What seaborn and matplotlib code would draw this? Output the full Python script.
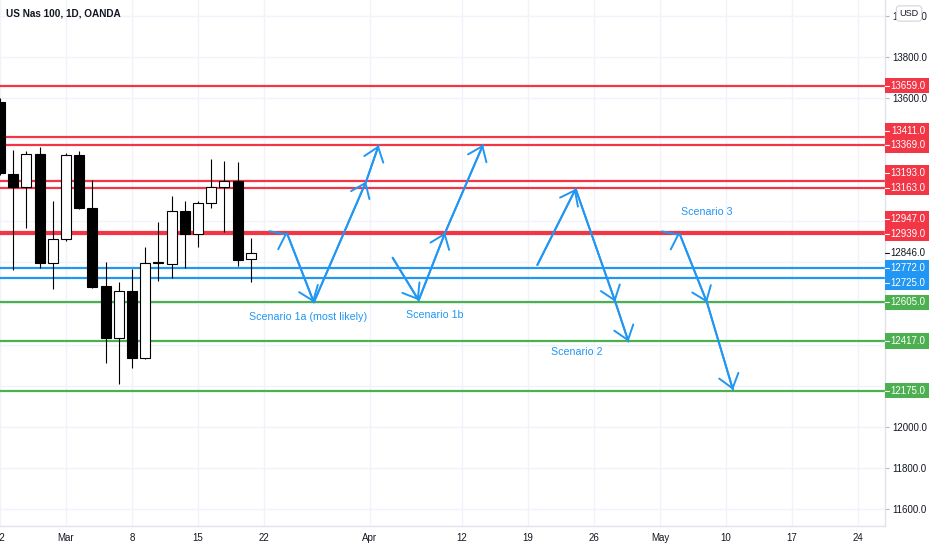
import numpy as np
import pandas as pd
import matplotlib
matplotlib.use("Agg")
import matplotlib.pyplot as plt
import seaborn as sns
from matplotlib.transforms import blended_transform_factory
from matplotlib.patches import Rectangle

# ---------------- data ----------------
candle_dates = pd.bdate_range("2021-02-22", "2021-03-19")
opens  = [13582, 13229, 13168, 13327, 12795, 12913, 13322, 13066, 12686, 12433,
          12660, 12333, 12795, 12793, 13049, 12939, 13087, 13168, 13193, 12815]
closes = [13233, 13168, 13327, 12795, 12915, 13322, 13063, 12681, 12433, 12660,
          12333, 12795, 12800, 13049, 12939, 13087, 13168, 13193, 12811, 12847]
highs  = [13600, 13346, 13341, 13362, 13100, 13330, 13341, 13200, 12803, 12706,
          12766, 12876, 12998, 13124, 13100, 13100, 13301, 13294, 13289, 12917]
lows   = [13225, 12763, 12967, 12771, 12670, 12905, 13060, 12675, 12309, 12208,
          12285, 12328, 12709, 12725, 12771, 12876, 13063, 12949, 12783, 12703]

level_values = [13659, 13411, 13369, 13193, 13163, 12947, 12939, 12772, 12725, 12605, 12417, 12175]
level_kinds  = ["res"] * 7 + ["mid"] * 2 + ["sup"] * 3
current_price = 12846

# scenario paths: (bar offset from 2021-02-22, price)
s1a_bar, s1a_price = [21.75, 23.77, 27.73, 28.68], [12939, 12605, 13193, 13369]
s1b_bar, s1b_price = [29.74, 31.71, 33.72, 36.59], [12822, 12615, 12945, 13372]
s2_bar,  s2_price  = [40.7, 43.6, 46.6, 47.6],     [12787, 13157, 12608, 12414]
s3_bar,  s3_price  = [51.48, 53.55, 55.52],        [12938, 12604, 12179]

scenario_labels = ["Scenario 1a (most likely)", "Scenario 1b", "Scenario 2", "Scenario 3"]
scenario_label_bar = [23.34, 32.94, 43.67, 53.5]
scenario_label_price = [12534, 12544, 12364, 13045]

x_tick_dates  = ["2021-02-22", "2021-03-01", "2021-03-08", "2021-03-15", "2021-03-22",
                 "2021-04-01", "2021-04-12", "2021-04-19", "2021-04-26", "2021-05-03",
                 "2021-05-10", "2021-05-17", "2021-05-24"]
x_tick_labels = ["22", "Mar", "8", "15", "22", "Apr", "12", "19", "26", "May", "10", "17", "24"]
y_ticks = list(range(11600, 14001, 200))

# ---------------- style ----------------
sns.set_theme(style="white")
FONT = ["Liberation Sans Narrow", "Liberation Sans", "DejaVu Sans"]
plt.rcParams["font.family"] = FONT
TXT = "#131722"
RED, BLUE, GREEN = "#f23645", "#2196f3", "#4caf50"
kind_color = {"res": RED, "mid": BLUE, "sup": GREEN}
GRID = "#f0f3fa"

W, H = 932, 550
fig = plt.figure(figsize=(W / 100, H / 100), dpi=100)
ax_w_px, ax_h_px = 885, 526
ax = fig.add_axes([0, 1 - ax_h_px / H, ax_w_px / W, ax_h_px / H])
ax.set_facecolor("white")

days = pd.bdate_range("2021-02-22", periods=80)
def bar_of(d):
    return days.get_loc(pd.Timestamp(d))

ax.set_xlim(0.136, 67.03)
ax.set_ylim(11517, 14076)
units_per_px = (14076 - 11517) / ax_h_px

# price-axis label placement (collision-avoided around the current price label)
gap = 14.8 * units_per_px
box_h = 15.2 * units_per_px
above = sorted([(v, k) for v, k in zip(level_values, level_kinds) if v > current_price])
below = sorted([(v, k) for v, k in zip(level_values, level_kinds) if v < current_price], reverse=True)
placed = []
prev = current_price
for v, k in above:
    y = max(v, prev + gap)
    placed.append((v, y, k)); prev = y
prev = current_price
for v, k in below:
    y = min(v, prev - gap)
    placed.append((v, y, k)); prev = y
box_centers = [p[1] for p in placed] + [current_price]

# candles
idx = np.array([bar_of(d) for d in candle_dates])
o, c, h, l = map(np.array, (opens, closes, highs, lows))
ax.vlines(idx, l, h, color="black", lw=0.8, zorder=3)
up = c >= o
body_bottom = np.minimum(o, c)
body_height = np.maximum(np.abs(c - o), 1.5 * units_per_px)
ax.bar(idx[up], body_height[up], bottom=body_bottom[up], width=0.76,
       color="white", edgecolor="black", linewidth=0.8, zorder=4)
ax.bar(idx[~up], body_height[~up], bottom=body_bottom[~up], width=0.76,
       color="black", edgecolor="black", linewidth=0.8, zorder=4)

# scenarios
paths = [(s1a_bar, s1a_price, True), (s1b_bar, s1b_price, False),
         (s2_bar, s2_price, False), (s3_bar, s3_price, True)]
frames = []
for n, (bx, py, _) in enumerate(paths):
    frames.append(pd.DataFrame({"bar": bx, "price": py, "path": n}))
scen = pd.concat(frames)
sns.lineplot(data=scen, x="bar", y="price", units="path", estimator=None, sort=False,
             color=BLUE, lw=1.4, ax=ax, legend=False, zorder=6)

head = dict(arrowstyle="->,head_length=0.95,head_width=0.72", color=BLUE, lw=1.4,
            shrinkA=0, shrinkB=0, mutation_scale=10)
for bx, py, first_head in paths:
    for k in range(1, len(bx)):
        ax.annotate("", xy=(bx[k], py[k]), xytext=(bx[k - 1], py[k - 1]),
                    arrowprops=head, zorder=6)
    if first_head:
        # open head arriving from lower-left
        ax.annotate("", xy=(bx[0], py[0]), xytext=(bx[0] - 0.08, py[0] - 2.5),
                    arrowprops=head, zorder=6)

for t, bx, py in zip(scenario_labels, scenario_label_bar, scenario_label_price):
    ax.text(bx, py, t, color=BLUE, fontsize=7.7, ha="center", va="center", zorder=7)

# axis limits / ticks / grid (after seaborn, which sets labels)
ax.set_xlim(0.136, 67.03)
ax.set_ylim(11517, 14076)
ax.set_xlabel("")
ax.set_ylabel("")
xt = [bar_of(d) for d in x_tick_dates]
ax.set_xticks(xt)
ax.set_xticklabels(x_tick_labels)
ax.set_yticks(y_ticks)
ylabels = []
for v in y_ticks:
    hidden = any(abs(v - bc) < 9.5 * units_per_px for bc in box_centers)
    ylabels.append("" if hidden else f"{v:.1f}")
ax.set_yticklabels(ylabels)
ax.yaxis.tick_right()
ax.grid(True, color=GRID, lw=1)
ax.set_axisbelow(True)
ax.tick_params(axis="both", colors="#b2b5be", labelcolor=TXT, labelsize=7, length=3, width=0.8)
ax.tick_params(axis="x", pad=2)
ax.tick_params(axis="y", pad=2.5)
for s in ["top", "left"]:
    ax.spines[s].set_visible(False)
for s in ["right", "bottom"]:
    ax.spines[s].set_color("#e0e3eb")
    ax.spines[s].set_linewidth(1)

# level lines
for v, k in zip(level_values, level_kinds):
    ax.axhline(v, color=kind_color[k], lw=1.6, zorder=2)

# price-axis labels
trans = blended_transform_factory(ax.transAxes, ax.transData)
x0 = 1.0
bw = 44 / ax_w_px
for v, y, k in placed:
    ax.add_patch(Rectangle((x0, y - box_h / 2), bw, box_h, transform=trans,
                           facecolor=kind_color[k], edgecolor="none", clip_on=False, zorder=10))
    ax.plot([x0, x0 + 4 / ax_w_px], [y, y], transform=trans, color="white", lw=0.8,
            clip_on=False, zorder=11)
    ax.text(x0 + 23 / ax_w_px, y, f"{v:.1f}", transform=trans, color="white",
            fontsize=7, ha="center", va="center", clip_on=False, zorder=11)

ax.plot([x0, x0 + 4 / ax_w_px], [current_price, current_price], transform=trans,
        color=TXT, lw=0.8, clip_on=False, zorder=11)
ax.text(x0 + 23 / ax_w_px, current_price, f"{current_price:.1f}", transform=trans,
        color=TXT, fontsize=7, ha="center", va="center", clip_on=False, zorder=11)

# title and currency badge
fig.text(6 / W, 1 - 14 / H, "US Nas 100, 1D, OANDA", color=TXT, fontsize=7.2,
         fontweight="bold", ha="left", va="center")
fig.text(909 / W, 1 - 13.5 / H, "USD", color=TXT, fontsize=6.5, ha="center", va="center",
         bbox=dict(boxstyle="round,pad=0.35,rounding_size=0.4", fc="white", ec="#d1d4dc", lw=0.8),
         zorder=20)

fig.savefig("out.png", dpi=100, facecolor="white")
